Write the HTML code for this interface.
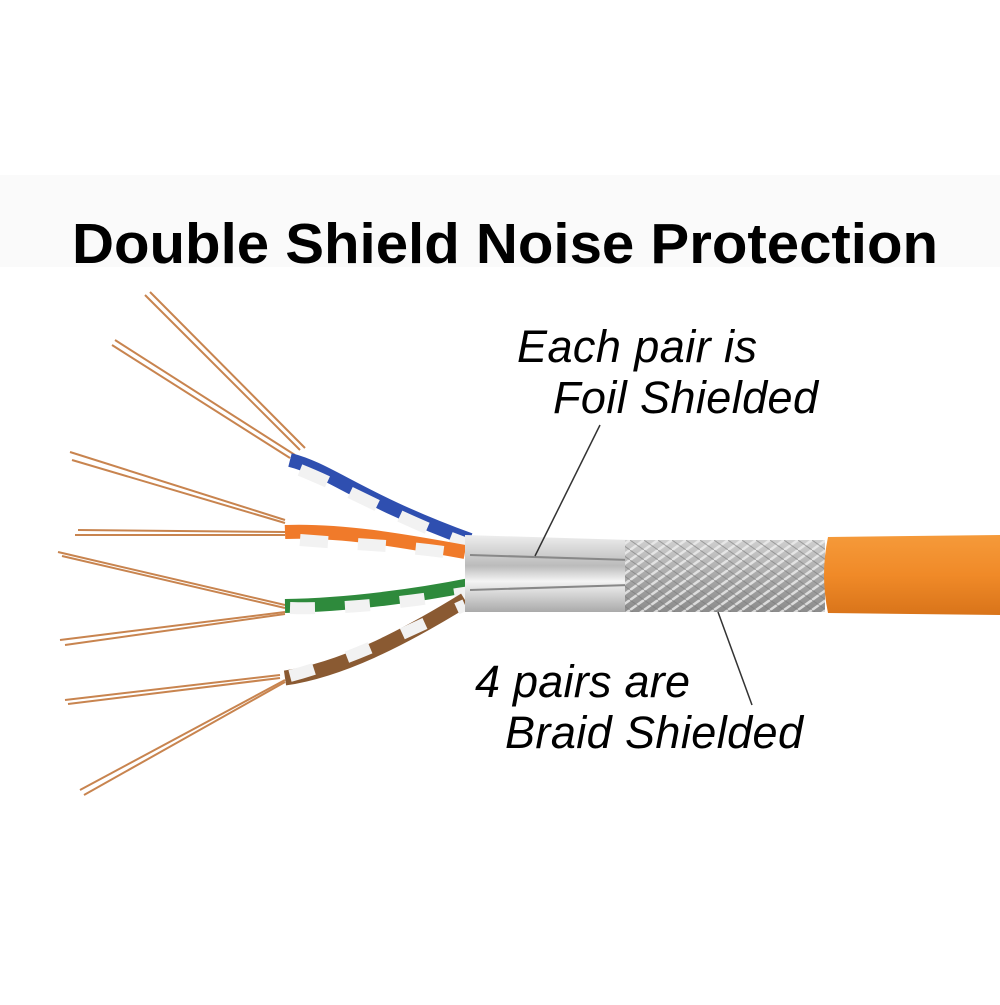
<!DOCTYPE html>
<html><head><style>
html,body{margin:0;padding:0;background:#fff;}
body{width:1000px;height:1000px;overflow:hidden;font-family:"Liberation Sans",sans-serif;}
</style></head><body>
<svg width="1000" height="1000" viewBox="0 0 1000 1000" xmlns="http://www.w3.org/2000/svg">
<defs>
<linearGradient id="or" x1="0" y1="0" x2="0" y2="1"><stop offset="0" stop-color="#f59a3a"/><stop offset="0.5" stop-color="#f08a28"/><stop offset="1" stop-color="#d9741a"/></linearGradient>
<linearGradient id="br" x1="0" y1="0" x2="0" y2="1"><stop offset="0" stop-color="#cfcfcf"/><stop offset="0.5" stop-color="#a9a9a9"/><stop offset="1" stop-color="#8c8c8c"/></linearGradient>
<linearGradient id="fo" x1="0" y1="0" x2="0" y2="1"><stop offset="0" stop-color="#eee"/><stop offset="0.4" stop-color="#bbb"/><stop offset="0.6" stop-color="#f4f4f4"/><stop offset="1" stop-color="#aaa"/></linearGradient>
<pattern id="weave" width="14" height="10" patternUnits="userSpaceOnUse"><path d="M0 10 L14 0 M-7 5 L7 -5 M7 15 L21 5" stroke="#eee" stroke-width="2.5" opacity="0.8"/><path d="M0 0 L14 10" stroke="#777" stroke-width="1" opacity="0.6"/></pattern>
</defs>
<rect x="0" y="175" width="1000" height="92" fill="#fafafa"/>
<text x="72" y="263" font-size="57" font-weight="bold" fill="#000" textLength="866" lengthAdjust="spacingAndGlyphs">Double Shield Noise Protection</text>
<g stroke="#c8844f" stroke-width="2" fill="none">
<path d="M145 295 L300 450"/><path d="M150 292 L305 448"/><path d="M115 340 L295 455"/><path d="M112 345 L290 458"/>
<path d="M70 452 L285 520"/><path d="M72 460 L285 523"/><path d="M78 530 L285 532"/><path d="M75 535 L285 535"/>
<path d="M58 552 L285 605"/><path d="M62 556 L285 608"/><path d="M60 640 L285 612"/><path d="M65 645 L285 614"/>
<path d="M65 700 L280 675"/><path d="M68 704 L280 678"/><path d="M80 790 L285 680"/><path d="M84 795 L285 682"/>
</g>
<path d="M290 460 C330 470 360 500 470 540" stroke="#2f4fb0" stroke-width="14" fill="none"/>
<path d="M300 470 C350 490 400 520 470 545" stroke="#f2f2f2" stroke-width="12" fill="none" stroke-dasharray="30 25"/>
<path d="M285 532 C340 530 400 540 465 552" stroke="#f07a2a" stroke-width="14" fill="none"/>
<path d="M300 540 C360 545 400 545 465 555" stroke="#f2f2f2" stroke-width="12" fill="none" stroke-dasharray="28 30"/>
<path d="M285 606 C350 605 420 595 470 585" stroke="#2e8a3c" stroke-width="14" fill="none"/>
<path d="M290 608 C350 610 420 600 470 592" stroke="#f2f2f2" stroke-width="12" fill="none" stroke-dasharray="25 30"/>
<path d="M285 678 C340 670 400 640 465 600" stroke="#8a5a32" stroke-width="15" fill="none"/>
<path d="M290 676 C350 660 410 630 465 605" stroke="#f2f2f2" stroke-width="12" fill="none" stroke-dasharray="25 35"/>
<path d="M465 535 L630 540 L630 612 L465 612 Z" fill="url(#fo)"/>
<path d="M470 555 L630 560 M470 590 L630 585" stroke="#888" stroke-width="2"/>
<rect x="625" y="540" width="200" height="72" fill="url(#br)"/>
<rect x="625" y="540" width="200" height="72" fill="url(#weave)"/>
<path d="M828 537 L1000 535 L1000 615 L828 613 Q820 575 828 537 Z" fill="url(#or)"/>
<line x1="600" y1="425" x2="535" y2="556" stroke="#333" stroke-width="1.5"/>
<line x1="718" y1="612" x2="752" y2="705" stroke="#333" stroke-width="1.5"/>
<g font-size="45" font-style="italic" fill="#000" lengthAdjust="spacingAndGlyphs">
<text x="517" y="362" textLength="240">Each pair is</text>
<text x="553" y="413" textLength="265">Foil Shielded</text>
<text x="475" y="697" textLength="215">4 pairs are</text>
<text x="505" y="748" textLength="298">Braid Shielded</text>
</g>
</svg>
</body></html>
